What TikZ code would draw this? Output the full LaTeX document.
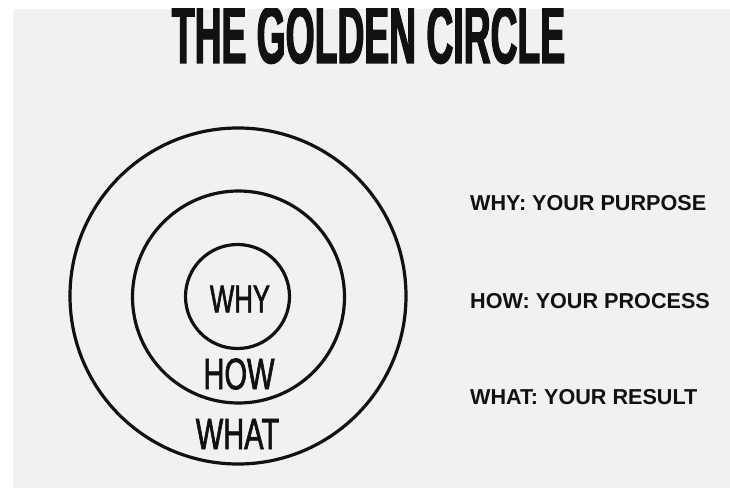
\documentclass[tikz,border=0pt]{standalone}
\usepackage{xcolor}
\usepackage{fontspec}
\setmainfont{Liberation Sans}
\newfontfamily\titlefont[FakeStretch=0.46,FakeBold=1.5]{Liberation Sans Bold}
\newfontfamily\handfont[FakeStretch=0.66,FakeBold=1.5]{Liberation Sans}
\usetikzlibrary{positioning}
\definecolor{circlebg}{RGB}{241, 241, 241}
\definecolor{circleink}{RGB}{17, 17, 17}

\begin{document}
\begin{tikzpicture}[x=1pt, y=-1pt,
    ring/.style={circle, draw=circleink, line width=3.2pt, inner sep=0pt},
    ringlabel/.style={font=\handfont\fontsize{44}{44}\selectfont, text=circleink, inner sep=0pt},
    sidelabel/.style={anchor=west, font=\bfseries\fontsize{21.6}{22}\selectfont, text=circleink, inner sep=0pt}]
  % Frame
  \useasboundingbox (0,0) rectangle (730,489);
  \fill[white] (0,0) rectangle (730,489);
  \fill[circlebg] (13,9) rectangle (730,488);

  % Title, cut at the top edge
  \begin{scope}
    \clip (13,9) rectangle (730,488);
    \node[anchor=base, inner sep=0pt, text=circleink,
          font=\titlefont\fontsize{81}{81}\selectfont] (title) at (368.5,63) {THE GOLDEN CIRCLE};
  \end{scope}

  % Circles
  \node[ring, minimum size=336pt] (whatring) at (238,296) {};
  \node[ring, minimum size=212pt] (howring) at (238.5,297) {};
  \node[ring, minimum size=104pt] (whyring) at (237.5,296.5) {};

  % Circle labels
  \node[ringlabel, font=\handfont\fontsize{39}{39}\selectfont] (why) at (240,299) {WHY};
  \node[ringlabel] (how) at (239,374) {HOW};
  \node[ringlabel] (what) at (237.5,434) {WHAT};

  % Side labels
  \node[sidelabel] (whytext) at (470,203) {WHY: YOUR PURPOSE};
  \node[sidelabel] (howtext) at (470,301) {HOW: YOUR PROCESS};
  \node[sidelabel] (whattext) at (470,397.5) {WHAT: YOUR RESULT};
\end{tikzpicture}
\end{document}
